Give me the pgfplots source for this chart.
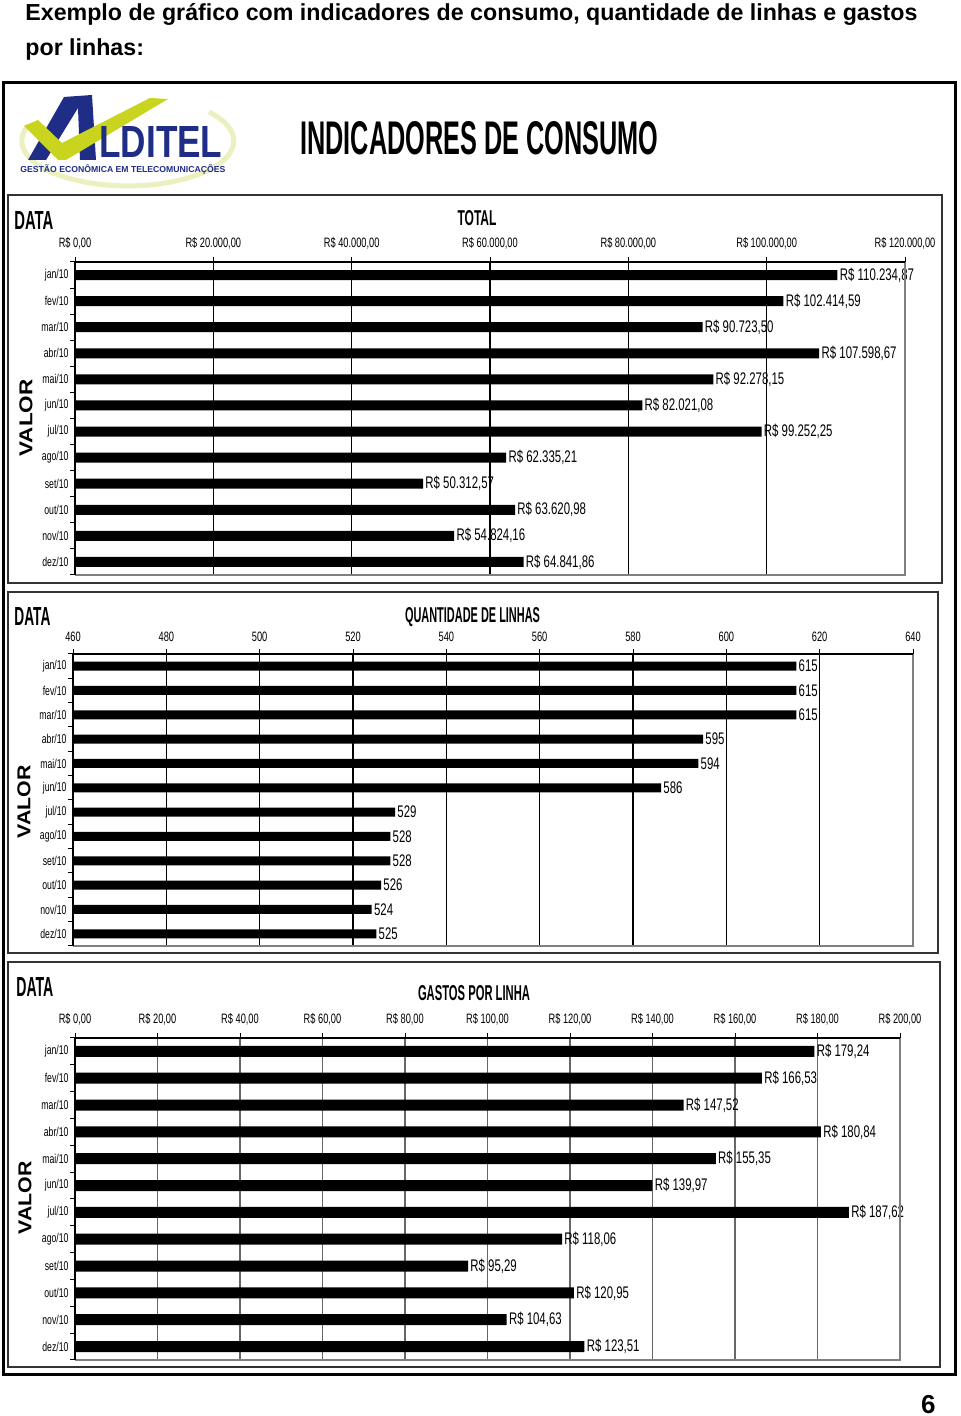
\documentclass[border=0pt]{standalone}
\usepackage{pgfplots}
\pgfplotsset{compat=1.18}
\usepackage{graphicx}
\usepackage{fontspec}
\setmainfont{Liberation Sans}
\newfontfamily\narrowf[FakeStretch=0.68]{Liberation Sans}

\definecolor{navy}{RGB}{31,45,134}
\definecolor{ygreen}{RGB}{200,212,30}
\definecolor{ylight}{RGB}{236,240,190}

\newcommand\barf{\narrowf\fontsize{8.4pt}{9pt}\selectfont}
\newcommand\tickf{\narrowf\fontsize{6.8pt}{7pt}\selectfont}
\newcommand\catf{\narrowf\fontsize{6.4pt}{7pt}\selectfont}

\pgfplotsset{
 mybar/.style={
  xbar, scale only axis, anchor=north west,
  ymin=-0.5, ymax=11.5,
  ytick={0,1,2,3,4,5,6,7,8,9,10,11},
  yticklabels={dez/10,nov/10,out/10,set/10,ago/10,jul/10,jun/10,mai/10,abr/10,mar/10,fev/10,jan/10},
  minor ytick={-0.5,0.5,1.5,2.5,3.5,4.5,5.5,6.5,7.5,8.5,9.5,10.5,11.5},
  xtick pos=right, xticklabel pos=right, ytick pos=left,
  tick align=outside,
  major tick length=2.5pt, minor tick length=2.5pt,
  major y tick style={draw=none},
  minor y tick style={draw=black, line width=0.5pt},
  major x tick style={draw=black, line width=0.5pt},
  xmajorgrids,
  scaled x ticks=false,
  axis line style={draw=none},
  xticklabel style={font=\tickf, yshift=0.3pt},
  yticklabel style={font=\catf, xshift=2.8pt},
  nodes near coords, point meta=explicit symbolic,
  nodes near coords style={font=\barf, anchor=west, inner xsep=1pt, inner ysep=0pt},
 }
}

\begin{document}
\begin{tikzpicture}
\begin{scope}[x=0.5pt, y=-0.5pt, yshift=708pt]
\path[use as bounding box] (0,0) rectangle (960,1416);
% page title
\node[anchor=base west, inner sep=0, font=\bfseries\fontsize{11.6pt}{13pt}\selectfont] at (25,20.5) {Exemplo de gráfico com indicadores de consumo, quantidade de linhas e gastos};
\node[anchor=base west, inner sep=0, font=\bfseries\fontsize{11.6pt}{13pt}\selectfont] at (25,56) {por linhas:};
% outer frame
\draw[line width=1.5pt] (3,83) rectangle (955,1375);
% logo
\draw[ylight, line width=2.5] (209,112) arc[start angle=-40, end angle=200, x radius=106, y radius=45];
\fill[navy] (28,160) -- (64,97) -- (92,95) -- (96,160) -- (80,160) -- (78,108) -- (46,160) -- cycle;
\fill[ygreen] (24,126) -- (38,120) -- (62,143) -- (150,98) -- (168,99) -- (66,160) -- (58,160) -- cycle;
\node[anchor=base west, inner sep=0, text=navy] at (99,158) {\resizebox{61.5pt}{15.5pt}{\bfseries LDITEL}};
\node[anchor=base west, inner sep=0, text=navy] at (20,173) {\resizebox{102.5pt}{!}{\bfseries GESTÃO ECONÔMICA EM TELECOMUNICAÇÕES}};
\node[anchor=base west, inner sep=0] at (300,155) {\resizebox{179pt}{16.5pt}{\bfseries INDICADORES DE CONSUMO}};
% chart frames
\draw[black!80, line width=1pt] (8,195) rectangle (942,583);
\draw[black!80, line width=1pt] (8,592) rectangle (938,953);
\draw[black!80, line width=1pt] (8,962) rectangle (940,1367);
% chart titles
\node[anchor=base west, inner sep=0] at (14,230) {\resizebox{19.5pt}{9pt}{\bfseries DATA}};
\node[anchor=base, inner sep=0] at (477,226) {\resizebox{19.5pt}{7.5pt}{\bfseries TOTAL}};
\node[anchor=base west, inner sep=0] at (14,626) {\resizebox{18pt}{9pt}{\bfseries DATA}};
\node[anchor=base, inner sep=0] at (472.5,623) {\resizebox{67.5pt}{7.5pt}{\bfseries QUANTIDADE DE LINHAS}};
\node[anchor=base west, inner sep=0] at (16,997) {\resizebox{18.5pt}{9.5pt}{\bfseries DATA}};
\node[anchor=base, inner sep=0] at (474,1001) {\resizebox{56pt}{7.5pt}{\bfseries GASTOS POR LINHA}};
\node[rotate=90, inner sep=0] at (26,418) {\resizebox{38.5pt}{6.5pt}{\bfseries VALOR}};
\node[rotate=90, inner sep=0] at (24,802) {\resizebox{36.5pt}{6.5pt}{\bfseries VALOR}};
\node[rotate=90, inner sep=0] at (25,1198) {\resizebox{36.5pt}{6.5pt}{\bfseries VALOR}};
% page number
\node[anchor=base east, inner sep=0, font=\bfseries\fontsize{13pt}{15pt}\selectfont] at (936,1413) {6};
\end{scope}

% ---------- chart 1: TOTAL ----------
\begin{axis}[mybar, name=ax1, at={(37.5pt,577pt)}, width=415pt, height=156.5pt,
  xmin=0, xmax=120000, bar width=5pt,
  xtick={0,20000,40000,60000,80000,100000,120000},
  xticklabels={{R\$ 0,00},{R\$ 20.000,00},{R\$ 40.000,00},{R\$ 60.000,00},{R\$ 80.000,00},{R\$ 100.000,00},{R\$ 120.000,00}},
  major x grid style={black, line width=0.6pt}]
\addplot[fill=black, draw=none] coordinates {
(110234.87,11) [R\$ 110.234,87]
(102414.59,10) [R\$ 102.414,59]
(90723.50,9) [R\$ 90.723,50]
(107598.67,8) [R\$ 107.598,67]
(92278.15,7) [R\$ 92.278,15]
(82021.08,6) [R\$ 82.021,08]
(99252.25,5) [R\$ 99.252,25]
(62335.21,4) [R\$ 62.335,21]
(50312.57,3) [R\$ 50.312,57]
(63620.98,2) [R\$ 63.620,98]
(54824.16,1) [R\$ 54.824,16]
(64841.86,0) [R\$ 64.841,86]
};
\end{axis}
\draw[black!50, line width=0.6pt] (ax1.south west) -- (ax1.south east) -- (ax1.north east);
\draw[black, line width=0.6pt] (ax1.south west) -- (ax1.north west) -- (ax1.north east);

% ---------- chart 2: QUANTIDADE DE LINHAS ----------
\begin{axis}[mybar, name=ax2, at={(36.5pt,381pt)}, width=420pt, height=146pt,
  xmin=460, xmax=640, bar width=4.5pt,
  xtick={460,480,500,520,540,560,580,600,620,640},
  xticklabels={460,480,500,520,540,560,580,600,620,640},
  major x grid style={black, line width=0.6pt}]
\addplot[fill=black, draw=none] coordinates {
(615,11) [615]
(615,10) [615]
(615,9) [615]
(595,8) [595]
(594,7) [594]
(586,6) [586]
(529,5) [529]
(528,4) [528]
(528,3) [528]
(526,2) [526]
(524,1) [524]
(525,0) [525]
};
\end{axis}
\draw[black!50, line width=0.6pt] (ax2.south west) -- (ax2.south east) -- (ax2.north east);
\draw[black, line width=0.6pt] (ax2.south west) -- (ax2.north west) -- (ax2.north east);

% ---------- chart 3: GASTOS POR LINHA ----------
\begin{axis}[mybar, name=ax3, at={(37.5pt,189pt)}, width=412.5pt, height=161pt,
  xmin=0, xmax=200, bar width=5.5pt,
  xtick={0,20,40,60,80,100,120,140,160,180,200},
  xticklabels={{R\$ 0,00},{R\$ 20,00},{R\$ 40,00},{R\$ 60,00},{R\$ 80,00},{R\$ 100,00},{R\$ 120,00},{R\$ 140,00},{R\$ 160,00},{R\$ 180,00},{R\$ 200,00}},
  major x grid style={black!60, line width=0.6pt}]
\addplot[fill=black, draw=none] coordinates {
(179.24,11) [R\$ 179,24]
(166.53,10) [R\$ 166,53]
(147.52,9) [R\$ 147,52]
(180.84,8) [R\$ 180,84]
(155.35,7) [R\$ 155,35]
(139.97,6) [R\$ 139,97]
(187.62,5) [R\$ 187,62]
(118.06,4) [R\$ 118,06]
(95.29,3) [R\$ 95,29]
(120.95,2) [R\$ 120,95]
(104.63,1) [R\$ 104,63]
(123.51,0) [R\$ 123,51]
};
\end{axis}
\draw[black!50, line width=0.6pt] (ax3.south west) -- (ax3.south east) -- (ax3.north east);
\draw[black, line width=0.6pt] (ax3.south west) -- (ax3.north west) -- (ax3.north east);
\end{tikzpicture}
\end{document}
